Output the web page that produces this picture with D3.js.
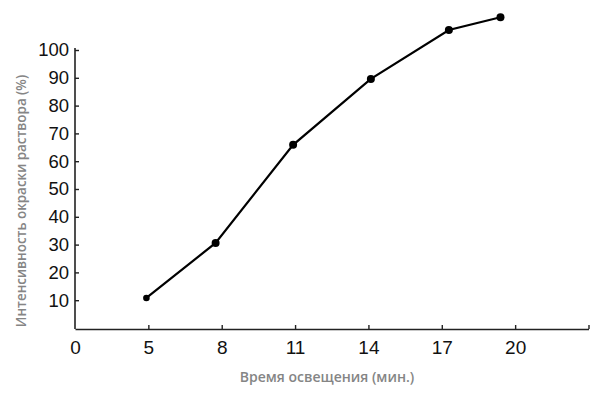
<!DOCTYPE html>
<html>
<head>
<meta charset="utf-8">
<script src="https://cdn.jsdelivr.net/npm/d3@7"></script>
<style>
  body { margin: 0; background: #fff; }
  svg { display: block; }
</style>
</head>
<body>
<div id="chart"></div>
<script>
const width = 600;
const height = 394;

// data
var minutes = [4.92, 7.75, 10.92, 14.1, 17.29, 19.4];
var intensity = [10.8, 30.6, 65.9, 89.6, 107.2, 111.8];
var xTicks = [2, 5, 8, 11, 14, 17, 20, 23];
var xTickLabels = ["0", "5", "8", "11", "14", "17", "20", ""];
var yTicks = [10, 20, 30, 40, 50, 60, 70, 80, 90, 100];

var data = minutes.map(function (m, i) {
  return { x: m, y: intensity[i] };
});

var x = d3.scaleLinear().domain([2, 23]).range([75, 588.5]);
var y = d3.scaleLinear().domain([0, 100]).range([328, 50]);

var svg = d3.select("#chart").append("svg")
  .attr("width", width)
  .attr("height", height);

// x axis
var xAxis = svg.append("g")
  .attr("transform", "translate(0,329)")
  .call(d3.axisBottom(x)
    .tickValues(xTicks)
    .tickSizeInner(-4)
    .tickSizeOuter(0)
    .tickPadding(12)
    .tickFormat(function (d, i) { return xTickLabels[i]; }));
xAxis.select(".domain").attr("stroke", "#222").attr("stroke-width", 1.6);
xAxis.selectAll(".tick line").attr("stroke", "#222").attr("stroke-width", 1.4);
xAxis.selectAll(".tick").filter(function (d) { return d === 2; }).select("line").remove();
xAxis.selectAll("text")
  .attr("font-family", "Liberation Sans, Arial, sans-serif")
  .attr("font-size", 19)
  .attr("fill", "#111");

// y axis
var yAxis = svg.append("g")
  .attr("transform", "translate(75,0)")
  .call(d3.axisLeft(y)
    .tickValues(yTicks)
    .tickSizeInner(-4)
    .tickSizeOuter(0)
    .tickPadding(6));
yAxis.select(".domain").attr("d", "M0,48V329").attr("stroke", "#222").attr("stroke-width", 1.6);
yAxis.selectAll(".tick line").attr("stroke", "#222").attr("stroke-width", 1.4);
yAxis.selectAll("text")
  .attr("font-family", "Liberation Sans, Arial, sans-serif")
  .attr("font-size", 18.5)
  .attr("fill", "#111");

// line
var line = d3.line()
  .x(function (d) { return x(d.x); })
  .y(function (d) { return y(d.y); });

svg.append("path")
  .datum(data)
  .attr("d", line)
  .attr("fill", "none")
  .attr("stroke", "#000")
  .attr("stroke-width", 2.2);

svg.selectAll(".dot")
  .data(data)
  .enter().append("circle")
  .attr("class", "dot")
  .attr("cx", function (d) { return x(d.x); })
  .attr("cy", function (d) { return y(d.y); })
  .attr("r", function (d, i) { return i === 0 ? 3.3 : 4; })
  .attr("fill", "#000");

// axis titles
svg.append("text")
  .attr("x", 327)
  .attr("y", 382)
  .attr("text-anchor", "middle")
  .attr("font-family", "Open Sans, sans-serif")
  .attr("font-weight", 600)
  .attr("font-size", 14)
  .attr("fill", "#858585")
  .text("Время освещения (мин.)");

svg.append("text")
  .attr("transform", "translate(26,201) rotate(-90)")
  .attr("text-anchor", "middle")
  .attr("font-family", "Open Sans, sans-serif")
  .attr("font-weight", 600)
  .attr("font-size", 13.4)
  .attr("fill", "#858585")
  .text("Интенсивность окраски раствора (%)");
</script>
</body>
</html>
